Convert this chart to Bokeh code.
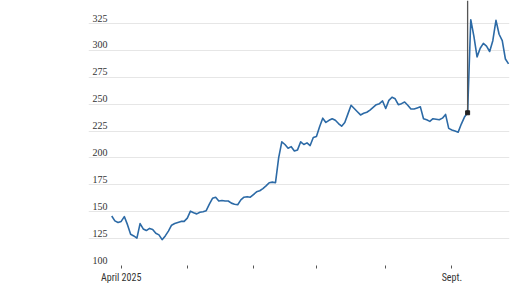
import numpy as np
import pandas as pd
from bokeh.plotting import figure
from bokeh.models import Range1d, FixedTicker, LabelSet, ColumnDataSource
from bokeh.embed import file_html
from bokeh.resources import INLINE

# Trading days (NYSE holidays excluded)
holidays = ["2025-04-18", "2025-05-26", "2025-06-19", "2025-07-04", "2025-09-01"]
dates = pd.bdate_range("2025-03-27", "2025-09-26", freq="C", holidays=holidays)

# Closing prices
prices = [
    146, 141.5, 140,
    141, 145.5, 138, 129, 127.5, 125.5, 139, 134, 132.5, 134.5, 133.5, 130,
    128.5, 124, 127.5, 132, 137.5, 139, 140, 141, 141,
    144, 150.5, 149, 148, 149.5, 150, 151, 157, 162.5, 163.5, 160, 160.5,
    160, 160, 158, 157, 156.5, 161, 163.5, 164, 163.5,
    166, 168.5, 169.5, 171.5, 174, 177, 177.5, 177, 200, 215, 212.5, 209,
    210.5, 206.5, 207.5, 215, 212.5, 214, 211.5, 219,
    220, 229, 237, 233, 235, 236.5, 235, 232, 229.5, 233, 241, 249, 246,
    243, 240, 241.5, 242.5, 244.5, 247, 249.5, 250.5, 253,
    246, 253.5, 256.5, 255, 249.5, 250.5, 252, 249, 245.5, 245.5, 246.5,
    247.5, 236.5, 235.5, 234, 236.5, 236, 235.5, 237, 240.5, 227.5,
    226, 225, 224, 231.5, 238, 242, 328.5, 313, 294, 302, 306.5, 304, 299,
    309, 328, 315, 309, 292, 287.5,
]

y_ticks = [100, 125, 150, 175, 200, 225, 250, 275, 300, 325]
month_tick_labels = ["April 2025", "", "", "", "", "Sept."]
highlight_date = "2025-09-09"

x = np.arange(len(dates))
months = dates.month
month_starts = [i for i in range(1, len(dates)) if months[i] != months[i - 1]]
label_map = {int(i): lab for i, lab in zip(month_starts, month_tick_labels)}

first_april = month_starts[0]
px_per_day = 3.152
x_start = first_april - 32.7 / px_per_day
x_end = x[-1] + 0.3

y_top = 346.4
FONT = "'Roboto Condensed', 'Liberation Sans Narrow', 'Arial Narrow', Roboto, sans-serif"

p = figure(width=516, height=289, output_backend="svg", toolbar_location=None,
           x_range=Range1d(x_start, x_end), y_range=Range1d(100, y_top),
           min_border_left=88, min_border_right=7, min_border_top=0,
           min_border_bottom=24)
p.outline_line_color = None
p.background_fill_color = "white"
p.border_fill_color = "white"

p.yaxis.visible = False
p.xgrid.visible = False
p.ygrid.ticker = FixedTicker(ticks=y_ticks)
p.ygrid.grid_line_color = "#e6e6e6"
p.ygrid.grid_line_width = 1

xa = p.xaxis[0]
xa.ticker = FixedTicker(ticks=month_starts)
xa.major_label_overrides = label_map
xa.axis_line_color = None
xa.major_tick_in = 0
xa.major_tick_out = 3
xa.major_tick_line_color = "#555555"
xa.minor_tick_line_color = None
xa.major_label_text_font = FONT
xa.major_label_text_font_size = "10px"
xa.major_label_text_color = "#333333"
xa.major_label_standoff = 3

ysrc = ColumnDataSource(dict(y=y_ticks, t=[str(v) for v in y_ticks]))
p.add_layout(LabelSet(x=4, x_units="screen", y="y", text="t", source=ysrc,
                      y_offset=2, text_align="left", text_baseline="bottom",
                      text_font=FONT, text_font_size="10px",
                      text_color="#333333"))

p.line(x, prices, line_color="#2c6aa6", line_width=1.6, line_join="round")

hi = int(np.where(dates == pd.Timestamp(highlight_date))[0][0])
p.segment(x0=[hi], y0=[prices[hi]], x1=[hi], y1=[y_top],
          line_color="#555555", line_width=1.3)
p.scatter([hi], [prices[hi]], marker="square", size=4, color="#222222")

open("out.html", "w").write(file_html(p, INLINE))
